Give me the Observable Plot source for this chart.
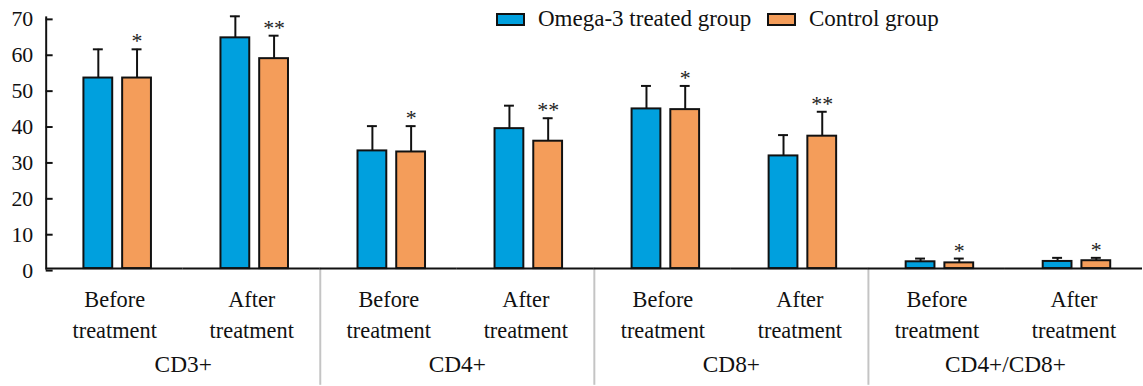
<!DOCTYPE html>
<html>
<head>
<meta charset="utf-8">
<script src="https://cdn.jsdelivr.net/npm/d3@7"></script>
<script src="https://cdn.jsdelivr.net/npm/@observablehq/plot@0.6"></script>
<style>
  html, body { margin: 0; padding: 0; background: #fff; overflow: hidden; }
  #wrap { position: relative; width: 1143px; height: 386px; overflow: hidden; }
  .lg-sw { position: absolute; top: 13px; width: 29px; height: 13px; box-sizing: border-box; border: 2px solid #111; }
  .lg-tx { position: absolute; top: 7px; font-family: 'Liberation Serif', serif; font-size: 23px; line-height: 1; color: #111; white-space: nowrap; }
</style>
</head>
<body>
<div id="wrap"></div>
<script>
// ---- data ----
const groups = ["CD3+", "CD4+", "CD8+", "CD4+/CD8+"];
const phases = ["Before treatment", "After treatment"];
const seriesNames = ["Omega-3 treated group", "Control group"];
const seriesColors = ["#00A0DE", "#F49D5A"];
// order: CD3 before, CD3 after, CD4 before, CD4 after, CD8 before, CD8 after, ratio before, ratio after
const omegaMean   = [53.1, 64.3, 32.8, 39.0, 44.5, 31.4, 1.9, 2.0];
const omegaSD     = [8.0, 6.0, 6.9, 6.4, 6.4, 5.8, 0.9, 1.0];
const controlMean = [53.1, 58.5, 32.5, 35.5, 44.3, 36.9, 1.6, 2.2];
const controlSD   = [8.0, 6.4, 7.2, 6.4, 6.6, 6.8, 1.2, 0.8];
const stars       = ["*", "**", "*", "**", "*", "**", "*", "*"];
const yTicks = [0, 10, 20, 30, 40, 50, 60, 70];

// ---- build table ----
const keys = [];
const rows = [];
const phaseRows = [];
groups.forEach((g, gi) => {
  phases.forEach((p, pi) => {
    const i = gi * 2 + pi;
    const key = g + "|" + p;
    keys.push(key);
    phaseRows.push({key, label: p.replace(" ", "\n")});
    rows.push({key, series: seriesNames[0], mean: omegaMean[i], sd: omegaSD[i], star: ""});
    rows.push({key, series: seriesNames[1], mean: controlMean[i], sd: controlSD[i], star: stars[i]});
  });
});
const groupRows = groups.map(g => ({key: g + "|" + phases[1], label: g}));
const sepKeys = groups.slice(1).map(g => g + "|" + phases[0]);

const font = "Liberation Serif, serif";

const chart = Plot.plot({
  width: 1151,
  height: 386,
  marginLeft: 45,
  marginRight: 0,
  marginTop: 17,
  marginBottom: 116,
  style: {fontFamily: font, fontSize: "22px", color: "#111", background: "transparent", overflow: "visible"},
  fx: {domain: keys, padding: 0, axis: null},
  x: {domain: seriesNames, paddingInner: 0.26, paddingOuter: 0.86, align: 0.54, axis: null},
  y: {domain: [0, 70], axis: null},
  color: {domain: seriesNames, range: seriesColors},
  marks: [
    ...sepKeys.map(k => Plot.frame({anchor: "left", fx: k, stroke: "#c4c4c4", strokeWidth: 2, insetTop: 253, insetBottom: -116})),
    Plot.barY(rows, {fx: "key", x: "series", y: "mean", fill: "series", stroke: "#111", strokeWidth: 2}),
    Plot.ruleX(rows, {fx: "key", x: "series", y1: "mean", y2: d => d.mean + d.sd, stroke: "#111", strokeWidth: 2}),
    Plot.tickY(rows, {fx: "key", x: "series", y: d => d.mean + d.sd, stroke: "#111", strokeWidth: 2, insetLeft: 9.5, insetRight: 9.5}),
    Plot.text(rows.filter(d => d.star), {fx: "key", x: "series", y: d => d.mean + d.sd, text: "star", lineAnchor: "middle", dy: -8, fontSize: 22, fontFamily: font, fill: "#222"}),
    Plot.ruleY([0], {stroke: "#111", strokeWidth: 2}),
    Plot.frame({anchor: "left", fx: keys[0], stroke: "#111", strokeWidth: 2}),
    Plot.axisY({ticks: yTicks, label: null, tickSize: -7, tickPadding: 20, fontSize: 22, fontFamily: font, strokeWidth: 2, stroke: "#111", fill: "#111", dy: 2}),
    Plot.text(phaseRows, {fx: "key", text: "label", frameAnchor: "bottom", lineAnchor: "top", dy: 16, lineHeight: 1.4, fontSize: 22.5, fontFamily: font, fill: "#111"}),
    Plot.text(groupRows, {fx: "key", text: "label", frameAnchor: "bottom-left", textAnchor: "middle", lineAnchor: "middle", dy: 97, fontSize: 23.5, fontFamily: font, fill: "#111"})
  ]
});

const wrap = document.getElementById("wrap");
wrap.appendChild(chart);

// legend
const legendItems = [
  {sw: 496, tx: 538, i: 0},
  {sw: 767, tx: 809, i: 1}
];
legendItems.forEach(({sw, tx, i}) => {
  const s = document.createElement("div");
  s.className = "lg-sw";
  s.style.left = sw + "px";
  s.style.background = seriesColors[i];
  wrap.appendChild(s);
  const t = document.createElement("div");
  t.className = "lg-tx";
  t.style.left = tx + "px";
  t.textContent = seriesNames[i];
  wrap.appendChild(t);
});
</script>
</body>
</html>
